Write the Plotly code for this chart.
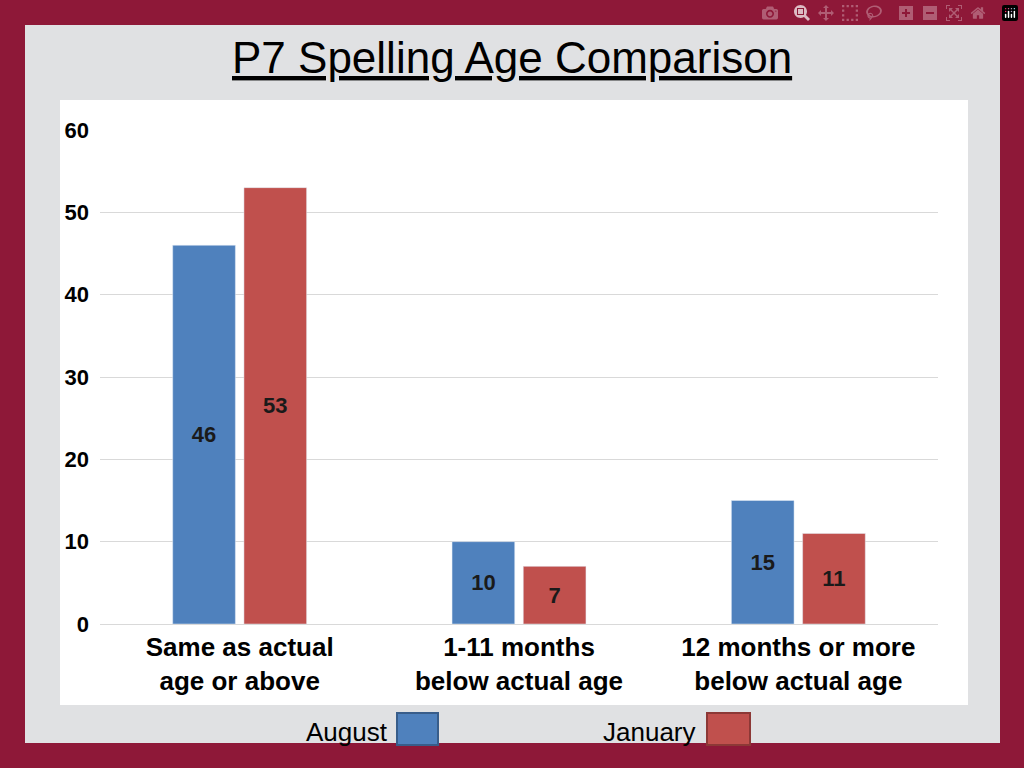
import plotly.graph_objects as go

categories = ["Same as actual<br>age or above", "1-11 months<br>below actual age", "12 months or more<br>below actual age"]
august = [46, 10, 15]
january = [53, 7, 11]
y_ticks = [0, 10, 20, 30, 40, 50, 60]

W, H = 1024, 768
L, R, T, B = 100, 938, 130, 624


def px(x):
    return (x - L) / (R - L)


def py(y):
    return (B - y) / (B - T)


fig = go.Figure()
for name, vals, col in [("August", august, "#4F81BD"), ("January", january, "#C0504D")]:
    fig.add_bar(x=categories, y=vals, name=name, marker_color=col,
                text=vals, textposition="inside", insidetextanchor="middle",
                textfont=dict(size=22, color="#1a1a1a", family="Liberation Sans", weight="bold"),
                showlegend=False)

shapes = [
    dict(type="rect", xref="paper", yref="paper", x0=px(25), x1=px(1000), y0=py(743), y1=py(25),
         fillcolor="#E0E1E3", line_width=0, layer="below"),
    dict(type="rect", xref="paper", yref="paper", x0=px(60), x1=px(968), y0=py(705), y1=py(100),
         fillcolor="white", line_width=0, layer="below"),
    dict(type="rect", xref="paper", yref="paper", x0=px(397), x1=px(438), y0=py(745), y1=py(713),
         fillcolor="#4F81BD", line=dict(color="#385D8A", width=2)),
    dict(type="rect", xref="paper", yref="paper", x0=px(707), x1=px(750), y0=py(745), y1=py(713),
         fillcolor="#C0504D", line=dict(color="#8C3836", width=2)),
]
annotations = [
    dict(text="<u>P7 Spelling Age Comparison</u>", xref="paper", yref="paper", x=px(512), y=py(58),
         xanchor="center", yanchor="middle",
         showarrow=False, font=dict(size=44, color="black", family="Liberation Sans")),
    dict(text="August", xref="paper", yref="paper", x=px(390), y=py(732), xanchor="right", yanchor="middle",
         showarrow=False, font=dict(size=26, color="black", family="Liberation Sans")),
    dict(text="January", xref="paper", yref="paper", x=px(698), y=py(732), xanchor="right", yanchor="middle",
         showarrow=False, font=dict(size=26, color="black", family="Liberation Sans")),
]

fig.update_layout(
    width=W, height=H, margin=dict(l=L, r=W - R, t=T, b=H - B),
    paper_bgcolor="#8E1838", plot_bgcolor="rgba(0,0,0,0)",
    barmode="group", bargap=0.49, bargroupgap=0.12,
    shapes=shapes, annotations=annotations,
    font=dict(family="Liberation Sans", color="black"),
    xaxis=dict(tickfont=dict(size=26, weight="bold"), showline=True, linecolor="#d9d9d9"),
    yaxis=dict(range=[0, 60], tickvals=y_ticks, gridcolor="#d9d9d9",
               tickfont=dict(size=22, weight="bold"), ticklabelstandoff=10, zeroline=False),
)
fig.write_html("out.html", post_script="document.body.style.margin='0px';")
